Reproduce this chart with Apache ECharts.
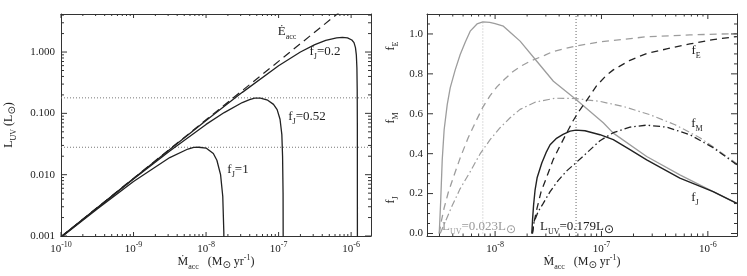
<!DOCTYPE html>
<html><head><meta charset="utf-8">
<script src="https://cdn.jsdelivr.net/npm/echarts@6.0.0/dist/echarts.min.js"></script>
<style>html,body{margin:0;padding:0;background:#fff;}#chart{width:747px;height:276px;}</style>
</head><body><div id="chart"></div>
<script>
// ================= DATA =================
// Left panel: L_UV (Lsun) versus accretion rate (Msun/yr)
const leftXRange = [1e-10, 1.88e-6];
const leftYRange = [0.001, 4.17];
const leftXTicks = [1e-10, 1e-9, 1e-8, 1e-7, 1e-6];
const leftYTicks = [0.001, 0.01, 0.1, 1];

const eaccMdot = [1e-10, 1e-8, 1e-6];
const eaccL    = [0.00097, 0.0785, 6.35];

const fj02Mdot = [1e-10, 3.16e-10, 1e-9, 3.16e-9, 1e-8, 3.16e-8, 1e-7, 2.0e-7, 3.16e-7, 4.47e-7, 6.31e-7, 7.59e-7, 8.91e-7, 1.023e-6, 1.096e-6, 1.148e-6, 1.180e-6, 1.202e-6, 1.213e-6, 1.219e-6, 1.222e-6];
const fj02L    = [0.00097, 0.0029, 0.00869, 0.0258, 0.0764, 0.220, 0.598, 1.0, 1.32, 1.55, 1.70, 1.74, 1.70, 1.57, 1.42, 1.18, 0.90, 0.55, 0.25, 0.06, 0.0001];

const fj052Mdot = [1e-10, 1e-9, 3.16e-9, 1e-8, 1.78e-8, 3.16e-8, 3.98e-8, 4.68e-8, 5.62e-8, 7.08e-8, 8.51e-8, 9.55e-8, 1.047e-7, 1.109e-7, 1.135e-7, 1.153e-7, 1.161e-7];
const fj052L    = [0.00096, 0.0085, 0.0244, 0.066, 0.103, 0.150, 0.168, 0.177, 0.177, 0.164, 0.140, 0.115, 0.080, 0.045, 0.020, 0.005, 0.0001];

const fj1Mdot = [1e-10, 3.16e-10, 1e-9, 3.16e-9, 5.62e-9, 6.76e-9, 7.94e-9, 1e-8, 1.26e-8, 1.41e-8, 1.585e-8, 1.70e-8, 1.758e-8, 1.77e-8];
const fj1L    = [0.00095, 0.00277, 0.00772, 0.0190, 0.0262, 0.0279, 0.0280, 0.0272, 0.0221, 0.0172, 0.0100, 0.0044, 0.00116, 0.0001];

const levelLow = 0.028;
const levelHigh = 0.179;

// Right panel: fractions versus accretion rate
const rightXRange = [2.29e-9, 1.88e-6];
const rightYRange = [-0.0126, 1.1];
const rightXTicks = [1e-8, 1e-7, 1e-6];
const rightYTicks = [0, 0.2, 0.4, 0.6, 0.8, 1.0];

// L_UV = 0.023 (grey)
const gJMdot = [2.985e-9, 3.083e-9, 3.184e-9, 3.319e-9, 3.548e-9, 3.784e-9, 4.217e-9, 4.699e-9, 5.25e-9, 5.834e-9, 6.76e-9, 7.674e-9, 8.91e-9, 1e-8, 1.197e-8, 1.41e-8, 1.718e-8, 2.466e-8, 3.532e-8, 5.768e-8, 1.040e-7, 1.291e-7, 2.661e-7, 5.458e-7, 1.122e-6, 1.875e-6];
const gJ     = [0, 0.168, 0.369, 0.52, 0.646, 0.73, 0.82, 0.897, 0.96, 1.014, 1.05, 1.061, 1.058, 1.052, 1.039, 1.005, 0.964, 0.863, 0.763, 0.671, 0.555, 0.503, 0.386, 0.294, 0.210, 0.151];
const gEMdot = [2.985e-9, 3.112e-9, 3.319e-9, 3.622e-9, 4.036e-9, 4.699e-9, 5.585e-9, 6.637e-9, 7.727e-9, 8.974e-9, 1.045e-8, 1.242e-8, 1.476e-8, 1.795e-8, 2.133e-8, 2.951e-8, 3.508e-8, 5.768e-8, 9.683e-8, 2.661e-7, 6.776e-7, 1.875e-6];
const gE     = [0, 0.058, 0.128, 0.204, 0.279, 0.379, 0.480, 0.565, 0.636, 0.691, 0.736, 0.776, 0.812, 0.842, 0.863, 0.894, 0.912, 0.940, 0.960, 0.986, 0.995, 1.002];
const gMMdot = [3.048e-9, 3.396e-9, 3.954e-9, 4.699e-9, 5.834e-9, 7.244e-9, 8.974e-9, 1.114e-8, 1.384e-8, 1.718e-8, 2.377e-8, 3.664e-8, 5.768e-8, 9.683e-8, 1.671e-7, 2.864e-7, 4.920e-7, 8.414e-7, 1.300e-6, 1.875e-6];
const gM     = [0, 0.058, 0.14, 0.225, 0.31, 0.40, 0.47, 0.53, 0.58, 0.622, 0.658, 0.678, 0.676, 0.662, 0.634, 0.595, 0.545, 0.48, 0.41, 0.35];

// L_UV = 0.179 (black)
const bJMdot = [2.213e-8, 2.249e-8, 2.301e-8, 2.377e-8, 2.483e-8, 2.748e-8, 3.013e-8, 3.289e-8, 3.741e-8, 4.355e-8, 5.070e-8, 5.768e-8, 6.998e-8, 9.683e-8, 1.291e-7, 1.854e-7, 2.661e-7, 5.458e-7, 1.122e-6, 1.875e-6];
const bJ     = [0, 0.068, 0.143, 0.219, 0.279, 0.353, 0.405, 0.445, 0.475, 0.497, 0.513, 0.518, 0.515, 0.495, 0.470, 0.42, 0.369, 0.277, 0.210, 0.151];
const bEMdot = [2.249e-8, 2.328e-8, 2.483e-8, 2.704e-8, 3.062e-8, 3.508e-8, 4.083e-8, 4.721e-8, 5.408e-8, 6.281e-8, 7.311e-8, 9.016e-8, 1.104e-7, 1.291e-7, 1.854e-7, 2.661e-7, 4.102e-7, 6.776e-7, 1.122e-6, 1.875e-6];
const bE     = [0, 0.058, 0.128, 0.209, 0.284, 0.369, 0.440, 0.505, 0.565, 0.62, 0.67, 0.741, 0.791, 0.82, 0.868, 0.902, 0.925, 0.950, 0.972, 0.987];
const bMMdot = [2.234e-8, 2.328e-8, 2.541e-8, 2.825e-8, 3.289e-8, 3.908e-8, 4.742e-8, 5.768e-8, 7.482e-8, 9.683e-8, 1.291e-7, 1.854e-7, 2.661e-7, 4.102e-7, 6.776e-7, 1.122e-6, 1.875e-6];
const bM     = [0, 0.058, 0.11, 0.15, 0.21, 0.265, 0.315, 0.355, 0.41, 0.465, 0.505, 0.533, 0.543, 0.533, 0.495, 0.430, 0.345];

const greyPeakMdot = 7.67e-9, greyPeakTop = 1.06;
const blackPeakMdot = 5.77e-8;

// ================= BUILD =================
const SERIF = '"Liberation Serif", "DejaVu Serif", serif';
const L10 = Math.log10;
const zip = (a, b) => a.map((v, i) => [v, b[i]]);
const AXC = '#333';
const AX = { color: AXC, width: 1 };
const BLACK = '#222', GREY = '#9d9d9d';

function logMinors(lo, hi) {
  const out = [];
  for (let d = Math.floor(L10(lo)); d <= Math.ceil(L10(hi)); d++) {
    for (let k = 2; k <= 9; k++) {
      const v = k * Math.pow(10, d);
      if (v > lo && v < hi) out.push(v);
    }
  }
  return out;
}
const rightYMinors = [];
for (let i = 1; i <= 21; i++) if (i % 4) rightYMinors.push(+(i * 0.05).toFixed(2));

const RICH_POW = {
  b: { fontFamily: SERIF, fontSize: 11, color: '#222', verticalAlign: 'bottom', padding: [0, 0, 0, 0] },
  s: { fontFamily: SERIF, fontSize: 8, color: '#222', verticalAlign: 'bottom', padding: [0, 0, 6, 0] }
};
const powLabel = v => '{b|10}{s|' + Math.round(v) + '}';

function frameX(grid, range, isLog, majors, fmt) {
  const lo = isLog ? L10(range[0]) : range[0], hi = isLog ? L10(range[1]) : range[1];
  const base = { type: 'value', gridIndex: grid, min: lo, max: hi, splitLine: { show: false },
    axisTick: { show: false }, axisLine: { show: true, onZero: false, lineStyle: AX } };
  return [
    Object.assign({}, base, { position: 'bottom',
      axisLabel: { show: true, customValues: isLog ? majors.map(L10) : majors, formatter: fmt, margin: 5, rich: RICH_POW } }),
    Object.assign({}, base, { position: 'top', axisLabel: { show: false } })
  ];
}
function frameY(grid, range, isLog, majors, fmt, margin) {
  const lo = isLog ? L10(range[0]) : range[0], hi = isLog ? L10(range[1]) : range[1];
  const base = { type: 'value', gridIndex: grid, min: lo, max: hi, splitLine: { show: false },
    axisTick: { show: false }, axisLine: { show: true, onZero: false, lineStyle: AX } };
  return [
    Object.assign({}, base, { position: 'left',
      axisLabel: { show: true, customValues: isLog ? majors.map(L10) : majors, formatter: fmt, margin: margin,
        fontFamily: SERIF, fontSize: 11, color: '#222' } }),
    Object.assign({}, base, { position: 'right', axisLabel: { show: false } })
  ];
}

const leftRect = { left: 61, top: 14, width: 310, height: 222, outerBoundsMode: 'none', containLabel: false };
const rightRect = { left: 427, top: 14, width: 310, height: 222, outerBoundsMode: 'none', containLabel: false };

// axis indices: 0 = left data, 1-2 = left frame, 3 = right data, 4-5 = right frame
const xAxis = [
  { gridIndex: 0, type: 'log', logBase: 10, min: leftXRange[0], max: leftXRange[1], show: false },
  ...frameX(1, leftXRange, true, leftXTicks, powLabel),
  { gridIndex: 2, type: 'log', logBase: 10, min: rightXRange[0], max: rightXRange[1], show: false },
  ...frameX(3, rightXRange, true, rightXTicks, powLabel)
];
const yAxis = [
  { gridIndex: 0, type: 'log', logBase: 10, min: leftYRange[0], max: leftYRange[1], show: false },
  ...frameY(1, leftYRange, true, leftYTicks, v => Math.pow(10, Math.round(v)).toFixed(3), 6),
  { gridIndex: 2, type: 'value', min: rightYRange[0], max: rightYRange[1], show: false },
  ...frameY(3, rightYRange, false, rightYTicks, v => v.toFixed(1), 4)
];
const LEFT = 0, RIGHT = 3;

// inward ticks on all four sides: thin rect symbols placed on the frame through the data axes
function tickMarks(ai, dim, values, len, xr, yr) {
  const out = [];
  const mk = (data, size, offset) => ({
    type: 'scatter', xAxisIndex: ai, yAxisIndex: ai, silent: true, animation: false, z: 6, clip: false,
    data: data, symbol: 'rect', symbolSize: size, symbolOffset: offset,
    itemStyle: { color: AXC, opacity: 1 }, emphasis: { disabled: true }
  });
  if (dim === 'x') {
    out.push(mk(values.map(v => [v, yr[0]]), [1, len], [0, -len / 2]));
    out.push(mk(values.map(v => [v, yr[1]]), [1, len], [0, len / 2]));
  } else {
    out.push(mk(values.map(v => [xr[0], v]), [len, 1], [len / 2, 0]));
    out.push(mk(values.map(v => [xr[1], v]), [len, 1], [-len / 2, 0]));
  }
  return out;
}

function line(ai, data, color, width, type, z) {
  return { type: 'line', xAxisIndex: ai, yAxisIndex: ai, data: data, symbol: 'none', showSymbol: false,
    silent: true, animation: false, clip: true, z: z || 3,
    lineStyle: { color: color, width: width, type: type || 'solid' } };
}
const DOT = [1, 2], DASH = [7, 5], DASHDOT = [7, 3, 1.5, 3];

const series = [
  ...tickMarks(LEFT, 'x', leftXTicks, 4, leftXRange, leftYRange),
  ...tickMarks(LEFT, 'x', logMinors(leftXRange[0], leftXRange[1]), 2, leftXRange, leftYRange),
  ...tickMarks(LEFT, 'y', leftYTicks, 6, leftXRange, leftYRange),
  ...tickMarks(LEFT, 'y', logMinors(leftYRange[0], leftYRange[1]), 3, leftXRange, leftYRange),
  line(LEFT, [[leftXRange[0], levelLow], [leftXRange[1], levelLow]], '#777', 1, DOT, 2),
  line(LEFT, [[leftXRange[0], levelHigh], [leftXRange[1], levelHigh]], '#777', 1, DOT, 2),
  line(LEFT, zip(eaccMdot, eaccL), BLACK, 1.2, [8, 5]),
  line(LEFT, zip(fj02Mdot, fj02L), BLACK, 1.3),
  line(LEFT, zip(fj052Mdot, fj052L), BLACK, 1.3),
  line(LEFT, zip(fj1Mdot, fj1L), BLACK, 1.3),
  ...tickMarks(RIGHT, 'x', rightXTicks, 5, rightXRange, rightYRange),
  ...tickMarks(RIGHT, 'x', logMinors(rightXRange[0], rightXRange[1]), 2.5, rightXRange, rightYRange),
  ...tickMarks(RIGHT, 'y', rightYTicks, 6, rightXRange, rightYRange),
  ...tickMarks(RIGHT, 'y', rightYMinors, 3, rightXRange, rightYRange),
  line(RIGHT, [[greyPeakMdot, 0], [greyPeakMdot, greyPeakTop]], '#bbb', 1, DOT, 2),
  line(RIGHT, [[blackPeakMdot, rightYRange[0]], [blackPeakMdot, rightYRange[1]]], '#666', 1, DOT, 2),
  line(RIGHT, zip(gJMdot, gJ), GREY, 1.3),
  line(RIGHT, zip(gEMdot, gE), GREY, 1.3, DASH),
  line(RIGHT, zip(gMMdot, gM), GREY, 1.2, DASHDOT),
  line(RIGHT, zip(bJMdot, bJ), BLACK, 1.4),
  line(RIGHT, zip(bEMdot, bE), BLACK, 1.3, DASH),
  line(RIGHT, zip(bMMdot, bM), BLACK, 1.3, DASHDOT)
];

const TR = {
  m: { fontFamily: SERIF, fontSize: 13, verticalAlign: 'bottom', padding: [0, 0, 3, 0] },
  sub: { fontFamily: SERIF, fontSize: 8, verticalAlign: 'bottom', padding: [0, 0, 0, 0] },
  sup: { fontFamily: SERIF, fontSize: 8, verticalAlign: 'bottom', padding: [0, 0, 9, 0] },
  sun: { fontFamily: '"DejaVu Sans", sans-serif', fontSize: 10, verticalAlign: 'bottom', padding: [0, 0, 0, 0] },
  a: { fontFamily: SERIF, fontSize: 12, verticalAlign: 'bottom', padding: [0, 0, 3, 0] },
  g: { fontFamily: SERIF, fontSize: 13, verticalAlign: 'bottom', padding: [0, 0, 3, 0] },
  gsun: { fontFamily: '"DejaVu Sans", sans-serif', fontSize: 12, verticalAlign: 'bottom', padding: [0, 0, 0, 0] }
};
function txt(x, y, text, fill, rot) {
  return { type: 'text', x: x, y: y, rotation: rot || 0, silent: true, z: 10,
    style: { text: text, rich: TR, fill: fill || '#222', font: '13px ' + SERIF, align: 'center', verticalAlign: 'middle' } };
}
const R90 = Math.PI / 2;
const xName = '{a|Ṁ}{sub|acc}{a|   (M}{sun|⊙}{a| yr}{sup|-1}{a|)}';
const graphic = [
  txt(287, 33, '{m|Ė}{sub|acc}'),
  txt(325, 53, '{m|f}{sub|J}{m|=0.2}'),
  txt(307, 118, '{m|f}{sub|J}{m|=0.52}'),
  txt(238, 171, '{m|f}{sub|J}{m|=1}'),
  txt(216, 262, xName),
  txt(10, 125, '{a|L}{sub|UV}{a| (L}{sun|⊙}{a|)}', '#222', R90),
  txt(582, 262, xName),
  txt(392, 46, '{a|f}{sub|E}', '#222', R90),
  txt(392, 118, '{a|f}{sub|M}', '#222', R90),
  txt(392, 200, '{a|f}{sub|J}', '#222', R90),
  txt(696, 52, '{m|f}{sub|E}'),
  txt(697, 125, '{m|f}{sub|M}'),
  txt(695, 199, '{m|f}{sub|J}'),
  txt(479, 228, '{g|L}{sub|UV}{g|=0.023L}{gsun|⊙}', '#999'),
  txt(577, 228, '{g|L}{sub|UV}{g|=0.179L}{gsun|⊙}', '#222')
];

const option = {
  animation: false,
  backgroundColor: '#fff',
  grid: [leftRect, leftRect, rightRect, rightRect],
  xAxis: xAxis,
  yAxis: yAxis,
  series: series,
  graphic: graphic
};
const chart = echarts.init(document.getElementById('chart'), null, { renderer: 'canvas' });
chart.setOption(option);
</script></body></html>
